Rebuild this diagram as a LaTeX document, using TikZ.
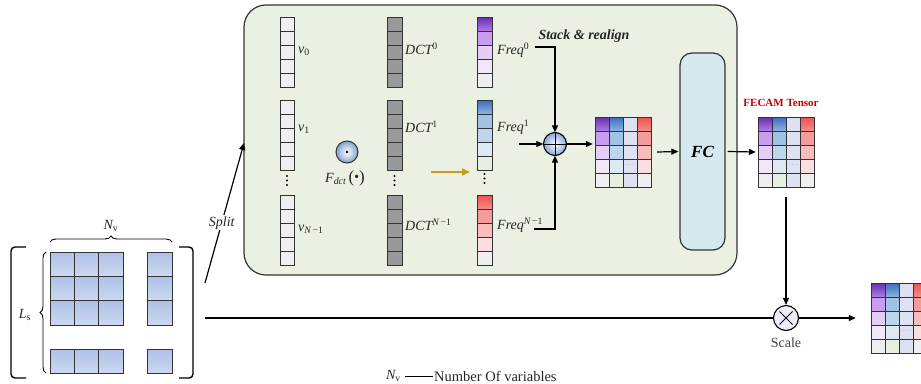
\documentclass[tikz,border=0pt]{standalone}
\usepackage{fontspec}
\setmainfont{Liberation Serif}
\usetikzlibrary{arrows.meta,calc,decorations.pathreplacing}

\definecolor{boxgreen}{HTML}{EAF1E2}
\definecolor{fcblue}{HTML}{D6E9EF}
\definecolor{lineclr}{HTML}{333333}
\definecolor{cellwhite}{HTML}{EFEFEF}
\definecolor{dctgrey}{HTML}{999999}
\definecolor{gold}{HTML}{C99A1B}
\definecolor{fecamred}{HTML}{C00000}
% purple palette
\definecolor{Pt}{HTML}{6530B0}\definecolor{P0}{HTML}{B07CE4}\definecolor{P1}{HTML}{C89DF0}
\definecolor{P2}{HTML}{E4CDF6}\definecolor{P3}{HTML}{F2E7F8}\definecolor{P4}{HTML}{EEEEEE}
% blue palette
\definecolor{Bt}{HTML}{3D6CC0}\definecolor{B0}{HTML}{8EB4E0}\definecolor{B1}{HTML}{A0C3E3}
\definecolor{B2}{HTML}{BDD6EB}\definecolor{B3}{HTML}{DCE8F2}\definecolor{B4}{HTML}{E6EEDD}
% lavender palette
\definecolor{L0}{HTML}{DDE1F1}
% red palette
\definecolor{Rt}{HTML}{EE5050}\definecolor{R0}{HTML}{F58C8C}\definecolor{R1}{HTML}{F49C9C}
\definecolor{R2}{HTML}{F8BCBC}\definecolor{R3}{HTML}{FADDDF}\definecolor{R4}{HTML}{EFEFEF}
% input cells
\definecolor{inTop}{HTML}{AFC1E8}\definecolor{inBot}{HTML}{CCD8F1}

\tikzset{
  cellline/.style={draw=lineclr, line width=0.8pt},
  arr/.style={-{Triangle[length=7pt,width=6pt]}, line width=1.2pt, draw=black},
  bigbracket/.style={line width=1.4pt, rounded corners=4pt, draw=black},
  curly/.style={decorate, decoration={brace, amplitude=6pt}, line width=0.9pt},
  lbl/.style={text=black!85, inner sep=1pt},
  dotmark/.style={fill=black, circle, inner sep=0pt, minimum size=2.4pt},
}

% a vertical strip of cells: x, y, width, height, shade colour of first cell, colour list
\newcommand\stripcol[6]{%
  \foreach \c [count=\i from 0] in {#6}{%
    \ifnum\i=0
      \draw[cellline, top color=#5, bottom color=\c] (#1,{#2+\i*#4}) rectangle ++(#3,#4);
    \else
      \draw[cellline, fill=\c] (#1,{#2+\i*#4}) rectangle ++(#3,#4);
    \fi
  }}

% a 4x5 frequency tensor: name, x, y
\newcommand\freqtensor[3]{%
  \stripcol{#2}{#3}{14}{14}{Pt}{P0,P1,P2,P3,P4}
  \stripcol{#2+14}{#3}{14}{14}{Bt}{B0,B1,B2,B3,B4}
  \stripcol{#2+28}{#3}{14}{14}{L0}{L0,L0,L0,L0,L0}
  \stripcol{#2+42}{#3}{14}{14}{Rt}{R0,R1,R2,R3,R4}
  \node[font=\fontsize{6}{6}\selectfont, text=black!55, inner sep=0pt] at (#2+35,#3+48) {$\cdots$};
  \node[inner sep=0pt, minimum width=56pt, minimum height=70pt] (#1) at (#2+28,#3+35) {};
}

% three vertical dots
\newcommand\vdotsat[2]{%
  \node[dotmark] at (#1,#2) {};
  \node[dotmark] at (#1,#2+4.5) {};
  \node[dotmark] at (#1,#2+9) {};
}

\begin{document}
\begin{tikzpicture}[x=1pt, y=-1pt, font=\fontsize{14}{16}\selectfont]
\useasboundingbox (0,0) rectangle (921,383);
\clip (0,0) rectangle (921,383);

% ---------------- input sequence matrix ----------------
\node[inner sep=0pt, minimum width=183pt, minimum height=131pt] (lm) at (101.5,312.5) {};
\draw[bigbracket] (26,247) -- (11,247) -- (11,378) -- (26,378);
\draw[bigbracket] (179,247) -- (193,247) -- (193,378) -- (179,378);
\foreach \i in {0,1,2}{
  \foreach \j in {0,1,2}{
    \draw[cellline, top color=inTop, bottom color=inBot] ({50+\i*24.4},{252+\j*24.4}) rectangle ++(24.4,24.4);
  }
  \draw[cellline, top color=inTop, bottom color=inBot] (147.5,{252+\i*24.4}) rectangle ++(24.4,24.4);
  \draw[cellline, top color=inTop, bottom color=inBot] ({50+\i*24.4},349) rectangle ++(24.4,24.4);
}
\draw[cellline, top color=inTop, bottom color=inBot] (147.5,349) rectangle ++(24.4,24.4);
\draw[curly] (46,373) -- (46,252);
\draw[curly] (50,242) -- (172,242);
\node[lbl] (ls) at (25,315) {\itshape L\textsubscript{\upshape s}};
\node[lbl] (nv) at (111,226) {\itshape N\textsubscript{\upshape v}};

% ---------------- frequency enhanced channel block ----------------
\draw[line width=1.2pt, draw=lineclr, fill=boxgreen, rounded corners=22pt] (244,5) rectangle (737,275);
\node[inner sep=0pt, minimum width=493pt, minimum height=270pt] (block) at (490.5,140) {};

% variables
\stripcol{280}{17}{14}{14}{cellwhite}{cellwhite,cellwhite,cellwhite,cellwhite,cellwhite}
\stripcol{280}{100}{14}{14}{cellwhite}{cellwhite,cellwhite,cellwhite,cellwhite,cellwhite}
\stripcol{280}{195}{14}{14}{cellwhite}{cellwhite,cellwhite,cellwhite,cellwhite,cellwhite}
\vdotsat{287}{176}
\node[lbl, anchor=west] (v0) at (297,51) {\itshape v\textsubscript{\upshape 0}};
\node[lbl, anchor=west] (v1) at (297,129) {\itshape v\textsubscript{\upshape 1}};
\node[lbl, anchor=west] (vn) at (297,229) {\itshape v\textsubscript{N\,\upshape{−}1}};

% DCT bases
\stripcol{387}{17}{15}{14}{dctgrey}{dctgrey,dctgrey,dctgrey,dctgrey,dctgrey}
\stripcol{387}{100}{15}{14}{dctgrey}{dctgrey,dctgrey,dctgrey,dctgrey,dctgrey}
\stripcol{387}{195}{15}{14}{dctgrey}{dctgrey,dctgrey,dctgrey,dctgrey,dctgrey}
\vdotsat{394.5}{176}
\node[lbl, anchor=west] (d0) at (404,49) {\itshape DCT\textsuperscript{\upshape 0}};
\node[lbl, anchor=west] (d1) at (404,127) {\itshape DCT\textsuperscript{\upshape 1}};
\node[lbl, anchor=west] (dn) at (404,225) {\itshape DCT\textsuperscript{N\,\upshape{−}1}};

% DCT operator
\shade[inner color=white, outer color=B0!90!black, draw=lineclr, line width=1pt] (347,152) circle (11);
\node[inner sep=0pt, minimum size=22pt] (fdct) at (347,152) {};
\node[dotmark, minimum size=2.6pt] at (fdct.center) {};
\node[lbl] (fdctl) at (345,178) {\itshape F\textsubscript{dct}\,{\fontsize{17}{17}\selectfont\upshape(}\raisebox{0.5pt}{•}{\fontsize{17}{17}\selectfont\upshape)}};

\coordinate (ga) at (431,172);
\coordinate (gb) at (470,172);
\draw[-{Triangle[length=8pt,width=7pt]}, line width=1.6pt, draw=gold] (ga) -- (gb);

% frequency components
\stripcol{477}{17}{15}{14}{Pt}{P0,P1,P2,P3,P4}
\stripcol{477}{100}{15}{14}{Bt}{B0,B1,B2,B3,B4}
\stripcol{477}{195}{15}{14}{Rt}{R0,R1,R2,R3,R4}
\vdotsat{484.5}{174}
\node[lbl, anchor=west] (f0) at (496,50) {\itshape Freq\textsuperscript{\upshape 0}};
\node[lbl, anchor=west] (f1) at (496,127) {\itshape Freq\textsuperscript{\upshape 1}};
\node[lbl, anchor=west] (fn) at (496,225) {\itshape Freq\textsuperscript{N\,\upshape{−}1}};
\node[lbl, font=\fontsize{14}{16}\selectfont\bfseries\itshape] (stack) at (584,36) {Stack \& realign};

% stacking operator
\shade[inner color=white, outer color=Bt!60!white, draw=black, line width=1.1pt] (555,144) circle (11.5);
\node[inner sep=0pt, minimum size=23pt] (oplus) at (555,144) {};
\draw[line width=1pt] (oplus.north) -- (oplus.south) (oplus.west) -- (oplus.east);

\coordinate (s0) at (535,47);
\coordinate (s1) at (519,144);
\coordinate (sn) at (534,229);
\draw[arr] (s0) -| (oplus.north);
\draw[arr] (sn) -| (oplus.south);
\draw[arr] (s1) -- (oplus.west);

\freqtensor{mat}{595}{117}
\draw[arr] (oplus.east) -- ($(oplus.east -| mat.west)+(-2,0)$);

% fully connected layer
\node[draw=lineclr, line width=1.2pt, fill=fcblue, rounded corners=12pt,
      minimum width=45pt, minimum height=197pt, inner sep=0pt,
      font=\fontsize{17}{19}\selectfont\bfseries\itshape] (fc) at (702.5,151.5) {FC};
\draw[arr] ($(mat.east)+(6,0)$) -- ($(fc.west)+(-1,0)$);

% ---------------- attention tensor and scaling ----------------
\freqtensor{fecam}{758}{117}
\node[font=\fontsize{11}{13}\selectfont\bfseries, text=fecamred, inner sep=0pt] (fecaml) at (781,103) {FECAM Tensor};
\draw[arr] ($(fc.east)+(2,0)$) -- ($(fecam.west)+(-2,0)$);

\node[draw=black, line width=1.1pt, fill=L0!60!white, circle, minimum size=25pt, inner sep=0pt] (otimes) at (786,318) {};
\draw[line width=1pt] ($(otimes.center)+(-6.5,-6.5)$) -- ($(otimes.center)+(6.5,6.5)$)
                      ($(otimes.center)+(-6.5,6.5)$) -- ($(otimes.center)+(6.5,-6.5)$);
\node[lbl, text=black!75] (scale) at (786,343) {Scale};
\draw[arr] ($(fecam.south)+(0,10)$) -- (otimes.north);

\freqtensor{out}{871}{283}
\draw[arr] (otimes.east) -- ($(out.west)+(-15,0)$);

% ---------------- input connections ----------------
\coordinate (inmain) at (205,318);
\coordinate (insplit) at (205,283);
\coordinate (blockin) at (244,143);
\draw[line width=1.2pt] (inmain) -- (otimes.west);
\draw[arr] (insplit) -- node[pos=0.43, fill=white, inner sep=1pt, lbl] (split) {\itshape Split} (blockin);

% ---------------- legend ----------------
\node[lbl, anchor=east] (legnv) at (402,376) {\itshape N\textsubscript{\upshape v}};
\node[lbl, anchor=west, font=\fontsize{14.5}{16}\selectfont] (legtxt) at (433,376) {Number Of variables};
\draw[line width=0.8pt] (405,376) -- (legtxt.west);
\end{tikzpicture}
\end{document}
